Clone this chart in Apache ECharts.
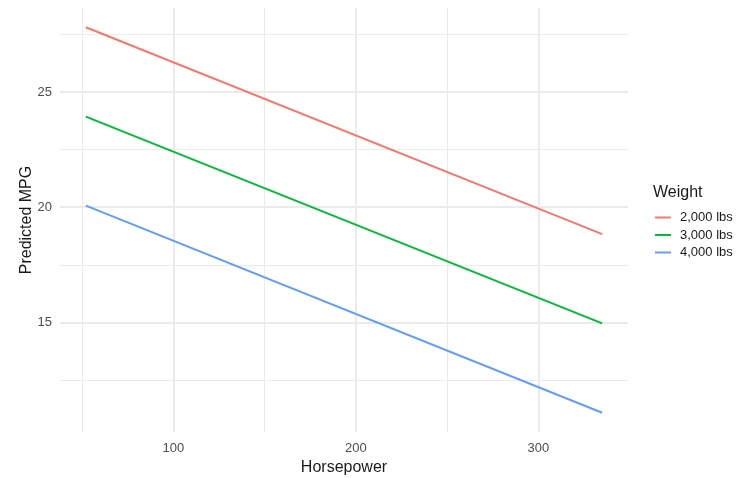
<!DOCTYPE html>
<html>
<head>
<meta charset="utf-8">
<title>Predicted MPG by Horsepower and Weight</title>
<script src="https://cdn.jsdelivr.net/npm/echarts@6/dist/echarts.min.js"></script>
<style>
  html, body { margin: 0; padding: 0; background: #ffffff; }
  #chart { width: 744px; height: 478px; }
</style>
</head>
<body>
<div id="chart"></div>
<script>
// Horsepower span covered by each prediction line
const horsepower = [52, 335];

// Predicted MPG at the start and end of the horsepower span, per weight
const weightLabels = ['2,000 lbs', '3,000 lbs', '4,000 lbs'];
const mpg2000 = [27.82, 18.83];
const mpg3000 = [23.94, 14.95];
const mpg4000 = [20.07, 11.07];

// Axis ticks and grid positions
const xTickLabels = [100, 200, 300];
const xMinorGrid = [50, 150, 250];
const yTickLabels = [15, 20, 25];
const yMinorGrid = [12.5, 17.5, 22.5, 27.5];

const colors = ['#F8766D', '#00BA38', '#619CFF'];
const seriesValues = [mpg2000, mpg3000, mpg4000];

// Axis limits padded by 5% of the data range on each side
const xPad = (horsepower[1] - horsepower[0]) * 0.05;
const allY = [].concat(mpg2000, mpg3000, mpg4000);
const yLo = Math.min.apply(null, allY), yHi = Math.max.apply(null, allY);
const yPad = (yHi - yLo) * 0.05;

const FONT = '"Liberation Sans", Arial, sans-serif';

const gridLines = [];
xTickLabels.forEach(v => gridLines.push({ xAxis: v, lineStyle: { width: 2 } }));
xMinorGrid.forEach(v => gridLines.push({ xAxis: v, lineStyle: { width: 1 } }));
yTickLabels.forEach(v => gridLines.push({ yAxis: v, lineStyle: { width: 2 } }));
yMinorGrid.forEach(v => gridLines.push({ yAxis: v, lineStyle: { width: 1 } }));

const series = [{
  name: '__grid',
  type: 'line',
  data: [],
  silent: true,
  z: 1,
  markLine: {
    silent: true,
    z: 1,
    symbol: ['none', 'none'],
    animation: false,
    label: { show: false },
    emphasis: { disabled: true },
    lineStyle: { color: '#ebebeb', type: 'solid' },
    data: gridLines
  }
}];

weightLabels.forEach((name, i) => {
  series.push({
    name: name,
    type: 'line',
    data: horsepower.map((hp, j) => [hp, seriesValues[i][j]]),
    showSymbol: false,
    symbol: 'none',
    z: 3,
    lineStyle: { color: colors[i], width: 2 },
    itemStyle: { color: colors[i] },
    animation: false
  });
});

const chart = echarts.init(document.getElementById('chart'), null, { renderer: 'canvas' });
chart.setOption({
  backgroundColor: '#ffffff',
  animation: false,
  grid: { left: 60, right: 116, top: 8, bottom: 46, containLabel: false, outerBoundsMode: 'none' },
  xAxis: {
    type: 'value',
    min: horsepower[0] - xPad,
    max: horsepower[1] + xPad,
    name: 'Horsepower',
    nameLocation: 'middle',
    nameGap: 28,
    nameMoveOverlap: false,
    nameTextStyle: { fontFamily: FONT, fontSize: 16, color: '#1a1a1a' },
    axisLine: { show: false },
    axisTick: { show: false },
    splitLine: { show: false },
    axisLabel: {
      customValues: xTickLabels,
      margin: 10,
      fontFamily: FONT, fontSize: 13, color: '#4d4d4d'
    }
  },
  yAxis: {
    type: 'value',
    min: yLo - yPad,
    max: yHi + yPad,
    name: 'Predicted MPG',
    nameLocation: 'middle',
    nameGap: 25,
    nameMoveOverlap: false,
    nameRotate: 90,
    nameTextStyle: { fontFamily: FONT, fontSize: 16, color: '#1a1a1a' },
    axisLine: { show: false },
    axisTick: { show: false },
    splitLine: { show: false },
    axisLabel: {
      customValues: yTickLabels,
      margin: 8,
      padding: [2, 0, 0, 0],
      fontFamily: FONT, fontSize: 13, color: '#4d4d4d'
    }
  },
  legend: {
    orient: 'vertical',
    left: 650,
    top: 206,
    data: weightLabels,
    icon: 'path://M0,0H16V2H0Z',
    itemWidth: 16,
    itemHeight: 2,
    itemGap: 4.5,
    textStyle: { fontFamily: FONT, fontSize: 13, color: '#1a1a1a', lineHeight: 13, padding: [0, 0, 0, 4] }
  },
  graphic: [{
    type: 'text',
    left: 653,
    top: 185,
    style: { text: 'Weight', font: '16px ' + FONT, fill: '#1a1a1a' }
  }],
  series: series
});
</script>
</body>
</html>
